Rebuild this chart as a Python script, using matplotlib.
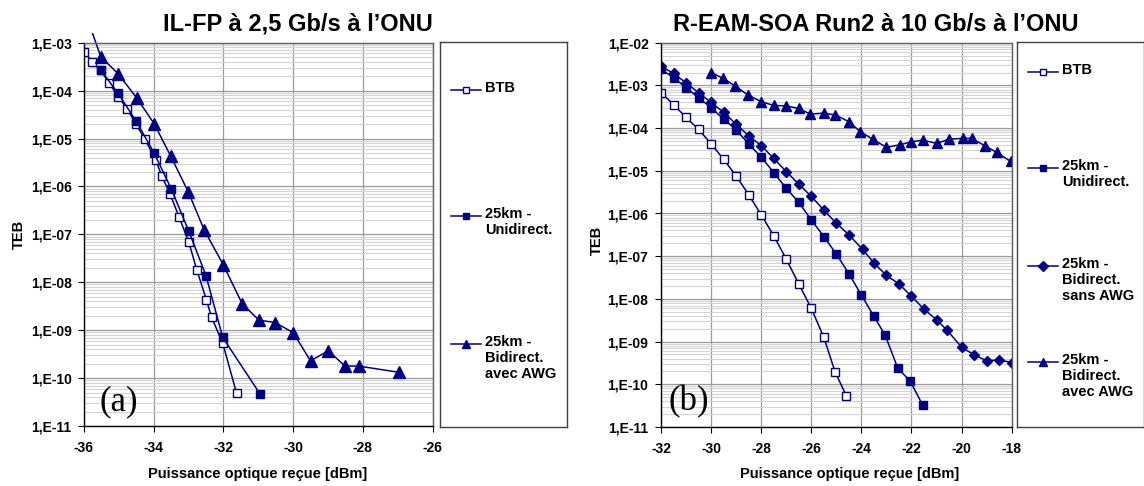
import matplotlib
matplotlib.use("Agg")
import matplotlib.pyplot as plt
import numpy as np
from matplotlib.lines import Line2D
from matplotlib.ticker import LogLocator, FixedLocator, NullFormatter
from matplotlib.transforms import Bbox, TransformedBbox

# ---------------- data (a) IL-FP 2.5 Gb/s ----------------
a_btb_x = [-36.0, -35.76, -35.52, -35.27, -35.02, -34.76, -34.51, -34.26, -33.94, -33.77,
           -33.53, -33.27, -32.99, -32.76, -32.49, -32.34, -32.02, -31.62]
a_btb_log = [-3.19, -3.40, -3.58, -3.85, -4.13, -4.38, -4.70, -5.00, -5.45, -5.78,
             -6.16, -6.64, -7.17, -7.75, -8.36, -8.73, -9.27, -10.32]
a_uni_x = [-35.52, -35.02, -34.51, -33.99, -33.49, -32.99, -32.50, -32.02, -30.95]
a_uni_log = [-3.57, -4.06, -4.63, -5.30, -6.06, -6.94, -7.86, -9.15, -10.33]
a_bid_x = [-36.0, -35.52, -35.02, -34.49, -33.98, -33.51, -33.01, -32.55, -32.00, -31.46,
           -30.98, -30.52, -30.00, -29.50, -28.99, -28.51, -28.11, -26.96]
a_bid_log = [-2.30, -3.29, -3.65, -4.15, -4.70, -5.37, -6.11, -6.91, -7.64, -8.45,
             -8.79, -8.84, -9.05, -9.64, -9.43, -9.75, -9.75, -9.88]

# ---------------- data (b) R-EAM-SOA Run2 10 Gb/s ----------------
b_btb_x = [-32.0, -31.5, -31.0, -30.5, -30.0, -29.5, -29.0, -28.5, -28.0, -27.5,
           -27.0, -26.5, -26.0, -25.5, -25.05, -24.6]
b_btb_log = [-3.17, -3.45, -3.75, -4.03, -4.37, -4.73, -5.12, -5.56, -6.03, -6.52,
             -7.07, -7.65, -8.22, -8.90, -9.71, -10.27]
b_uni_x = [-32.0, -31.5, -31.0, -30.5, -30.0, -29.5, -29.0, -28.5, -28.0, -27.5, -27.0,
           -26.5, -26.0, -25.5, -25.0, -24.5, -24.0, -23.5, -23.05, -22.55, -22.05, -21.55]
b_uni_log = [-2.62, -2.82, -3.05, -3.29, -3.52, -3.79, -4.04, -4.37, -4.68, -5.04, -5.41,
             -5.74, -6.15, -6.54, -6.95, -7.41, -7.91, -8.41, -8.85, -9.62, -9.93, -10.49]
b_bsans_x = [-32.0, -31.5, -31.0, -30.5, -30.0, -29.5, -29.0, -28.5, -28.0, -27.5, -27.0,
             -26.5, -26.0, -25.5, -25.0, -24.5, -23.95, -23.5, -23.0, -22.5, -22.0, -21.5,
             -21.0, -20.6, -20.0, -19.5, -19.0, -18.5, -18.0]
b_bsans_log = [-2.55, -2.72, -2.94, -3.17, -3.40, -3.63, -3.91, -4.18, -4.41, -4.71, -5.02,
               -5.31, -5.60, -5.92, -6.23, -6.50, -6.84, -7.16, -7.45, -7.65, -7.94, -8.24,
               -8.49, -8.72, -9.13, -9.31, -9.45, -9.43, -9.49]
b_bavec_x = [-30.0, -29.54, -29.05, -28.54, -28.0, -27.5, -27.0, -26.5, -26.05, -25.5,
             -25.05, -24.5, -24.05, -23.55, -23.0, -22.45, -22.0, -21.55, -21.0, -20.5,
             -19.95, -19.6, -19.05, -18.6, -18.04]
b_bavec_log = [-2.70, -2.83, -3.01, -3.22, -3.38, -3.47, -3.48, -3.54, -3.67, -3.65,
               -3.69, -3.85, -4.08, -4.26, -4.45, -4.39, -4.32, -4.28, -4.36, -4.26,
               -4.24, -4.24, -4.42, -4.57, -4.78]

a_xticks = [-36, -34, -32, -30, -28, -26]
b_xticks = [-32, -30, -28, -26, -24, -22, -20, -18]
a_ydecades = list(range(-11, -2))
b_ydecades = list(range(-11, -1))

title_a = "IL-FP à 2,5 Gb/s à l’ONU"
title_b = "R-EAM-SOA Run2 à 10 Gb/s à l’ONU"
xlabel = "Puissance optique reçue [dBm]"
ylabel = "TEB"
legend_a = ["BTB", "25km -\nUnidirect.", "25km -\nBidirect.\navec AWG"]
legend_b = ["BTB", "25km -\nUnidirect.", "25km -\nBidirect.\nsans AWG", "25km -\nBidirect.\navec AWG"]

NAVY = "#000080"
plt.rcParams['font.family'] = ['Liberation Sans', 'DejaVu Sans']

W, H = 1144, 486
fig = plt.figure(figsize=(W / 100, H / 100), dpi=100)


def px_axes(x0, y0, x1, y1):
    return fig.add_axes([x0 / W, (H - y1) / H, (x1 - x0) / W, (y1 - y0) / H])


styles = {
    'btb': dict(marker='s', ms=5.5, mfc='white', mec=NAVY, mew=1.0),
    'uni': dict(marker='s', ms=5.5, mfc=NAVY, mec=NAVY),
    'bsans': dict(marker='D', ms=5.5, mfc=NAVY, mec=NAVY),
    'bavec': dict(marker='^', ms=7.5, mfc=NAVY, mec=NAVY),
}

TICK_FS = 10


def setup(ax, xlim, decades, xticks):
    ax.set_yscale('log')
    ax.set_xlim(*xlim)
    ax.set_ylim(10.0 ** decades[0], 10.0 ** decades[-1])
    ax.xaxis.set_major_locator(FixedLocator(xticks))
    ax.set_xticklabels([str(t) for t in xticks], fontsize=TICK_FS, fontweight='bold')
    ax.yaxis.set_major_locator(FixedLocator([10.0 ** d for d in decades]))
    ax.set_yticklabels(["1,E%03d" % d for d in decades], fontsize=TICK_FS, fontweight='bold')
    ax.yaxis.set_minor_locator(LogLocator(base=10, subs=np.arange(2, 10), numticks=100))
    ax.yaxis.set_minor_formatter(NullFormatter())
    ax.tick_params(axis='y', which='minor', length=0)
    ax.tick_params(axis='y', which='major', length=4, direction='out', pad=5, color='black')
    ax.tick_params(axis='x', which='major', length=4, direction='out', pad=7, color='black')
    ax.grid(True, which='major', axis='both', color='#9a9a9a', lw=0.9)
    ax.grid(True, which='minor', axis='y', color='#d4d4d4', lw=0.8)
    ax.set_axisbelow(True)
    for s in ['left', 'bottom']:
        ax.spines[s].set_color('black')
        ax.spines[s].set_linewidth(1.0)
    for s in ['top', 'right']:
        ax.spines[s].set_color('#606060')
        ax.spines[s].set_linewidth(1.0)


def plot_series(ax, x, logs, key, ms=None, clip_top=1.0):
    st = dict(styles[key])
    if ms is not None:
        st['ms'] = ms
    line, = ax.plot(x, [10.0 ** v for v in logs], color=NAVY, lw=1.1, **st)
    if clip_top != 1.0:
        line.set_clip_box(TransformedBbox(Bbox([[0, 0], [1, clip_top]]), ax.transAxes))
    return line


def legend_box(x0, keys, labels, ys):
    lax = px_axes(x0, 42, x0 + 127, 427)
    lax.set_xlim(0, 127)
    lax.set_ylim(385, 0)
    lax.set_xticks([])
    lax.set_yticks([])
    for s in lax.spines.values():
        s.set_color('#404040')
        s.set_linewidth(1.0)
    for key, lab, y in zip(keys, labels, ys):
        st = dict(styles[key])
        st['ms'] = st['ms'] * 0.85
        lax.add_line(Line2D([11, 26, 41], [y, y, y], color=NAVY, lw=1.1, markevery=[1], **st))
        lax.text(45, y - 9, lab, fontsize=10.5, fontweight='bold', va='top', ha='left',
                 linespacing=1.2)
    return lax


# ---------------- panel (a) ----------------
axa = px_axes(84, 42.7, 432.5, 426)
setup(axa, (-36, -26), a_ydecades, a_xticks)
plot_series(axa, a_btb_x, a_btb_log, 'btb')
plot_series(axa, a_uni_x, a_uni_log, 'uni')
plot_series(axa, a_bid_x, a_bid_log, 'bavec', ms=8.2, clip_top=1.025)
axa.text(0.10, 0.062, "(a)", transform=axa.transAxes, fontsize=25,
         family=['Liberation Serif', 'DejaVu Serif'], ha='center', va='center')
fig.text(298 / W, 1 - 31 / H, title_a, fontsize=17, fontweight='bold', ha='center', va='baseline')
fig.text(258 / W, 1 - 474 / H, xlabel, fontsize=10.5, fontweight='bold', ha='center', va='center')
fig.text(18.5 / W, 1 - 234 / H, ylabel, fontsize=10.5, fontweight='bold', ha='center', va='center',
         rotation=90)
legend_box(440, ['btb', 'uni', 'bavec'], legend_a, [48, 174, 302])

# ---------------- panel (b) ----------------
axb = px_axes(661, 42.7, 1011.7, 427)
setup(axb, (-32, -18), b_ydecades, b_xticks)
plot_series(axb, b_btb_x, b_btb_log, 'btb')
plot_series(axb, b_uni_x, b_uni_log, 'uni')
plot_series(axb, b_bsans_x, b_bsans_log, 'bsans')
plot_series(axb, b_bavec_x, b_bavec_log, 'bavec')
axb.text(0.08, 0.065, "(b)", transform=axb.transAxes, fontsize=25,
         family=['Liberation Serif', 'DejaVu Serif'], ha='center', va='center')
fig.text(876 / W, 1 - 31 / H, title_b, fontsize=17, fontweight='bold', ha='center', va='baseline')
fig.text(850 / W, 1 - 474 / H, xlabel, fontsize=10.5, fontweight='bold', ha='center', va='center')
fig.text(597 / W, 1 - 240 / H, ylabel, fontsize=10.5, fontweight='bold', ha='center', va='center',
         rotation=90)
legend_box(1017, ['btb', 'uni', 'bsans', 'bavec'], legend_b, [30, 126, 224, 320])

fig.savefig("out.png", dpi=100, facecolor='white')
